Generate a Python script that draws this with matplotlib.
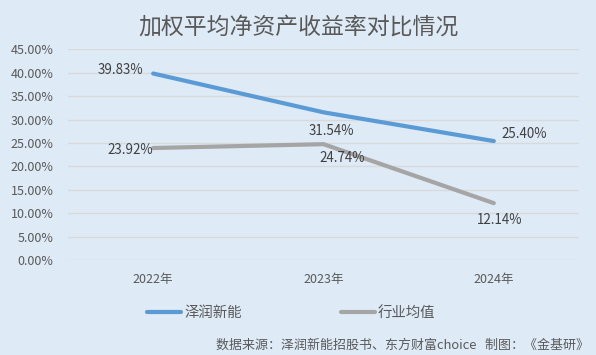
import matplotlib
matplotlib.use("Agg")
import matplotlib.pyplot as plt
from matplotlib.ticker import FuncFormatter

plt.rcParams['font.family'] = ['Noto Sans CJK SC', 'DejaVu Sans']

years = ['2022年', '2023年', '2024年']
zerun = [39.83, 31.54, 25.40]
industry = [23.92, 24.74, 12.14]

bg = '#deeaf6'
blue = '#5b9bd5'
gray = '#a5a5a5'
txt = '#595959'

fig = plt.figure(figsize=(5.96, 3.55), dpi=100, facecolor=bg)
ax = fig.add_axes([0.1141, 0.2676, 0.8574, 0.5935], facecolor=bg)

x = range(len(years))
ax.plot(x, zerun, color=blue, lw=3, solid_capstyle='round', label='泽润新能')
ax.plot(x, industry, color=gray, lw=3, solid_capstyle='round', label='行业均值')

ax.set_xlim(-0.5, 2.5)
ax.set_ylim(0, 45)
ax.set_yticks(range(0, 50, 5))
ax.yaxis.set_major_formatter(FuncFormatter(lambda v, p: '%.2f%%' % v))
ax.set_xticks(list(x))
ax.set_xticklabels(years)
ax.grid(axis='y', color='#d9d9d9', lw=0.9)
ax.set_axisbelow(True)
for s in ax.spines.values():
    s.set_visible(False)
ax.tick_params(length=0, labelsize=9, colors=txt)
ax.tick_params(axis='y', pad=10.5)
ax.tick_params(axis='x', pad=9)

# data labels, offsets in pixels
lab = dict(fontsize=9.6, color='#404040', textcoords='offset pixels', va='center')
ax.annotate('%.2f%%' % zerun[0], (0, zerun[0]), xytext=(-10, 4), ha='right', **lab)
ax.annotate('%.2f%%' % zerun[1], (1, zerun[1]), xytext=(8, -19), ha='center', **lab)
ax.annotate('%.2f%%' % zerun[2], (2, zerun[2]), xytext=(8, 7), ha='left', **lab)
ax.annotate('%.2f%%' % industry[0], (0, industry[0]), xytext=(0, -2), ha='right', **lab)
ax.annotate('%.2f%%' % industry[1], (1, industry[1]), xytext=(19, -14), ha='center', **lab)
ax.annotate('%.2f%%' % industry[2], (2, industry[2]), xytext=(6, -17), ha='center', **lab)

fig.text(0.5, 0.924, '加权平均净资产收益率对比情况', ha='center', va='center', fontsize=16.5, color=txt)

leg = fig.legend(loc='center', bbox_to_anchor=(0.489, 0.118), ncol=2, frameon=False,
                 fontsize=10.4, handlelength=2.35, handletextpad=0.2, columnspacing=6.9)
for t in leg.get_texts():
    t.set_color(txt)

fig.text(0.988, 0.028, '数据来源：泽润新能招股书、东方财富choice   制图：《金基研》',
         ha='right', va='center', fontsize=9.35, color=txt)

fig.savefig('out.png', dpi=100, facecolor=bg)
